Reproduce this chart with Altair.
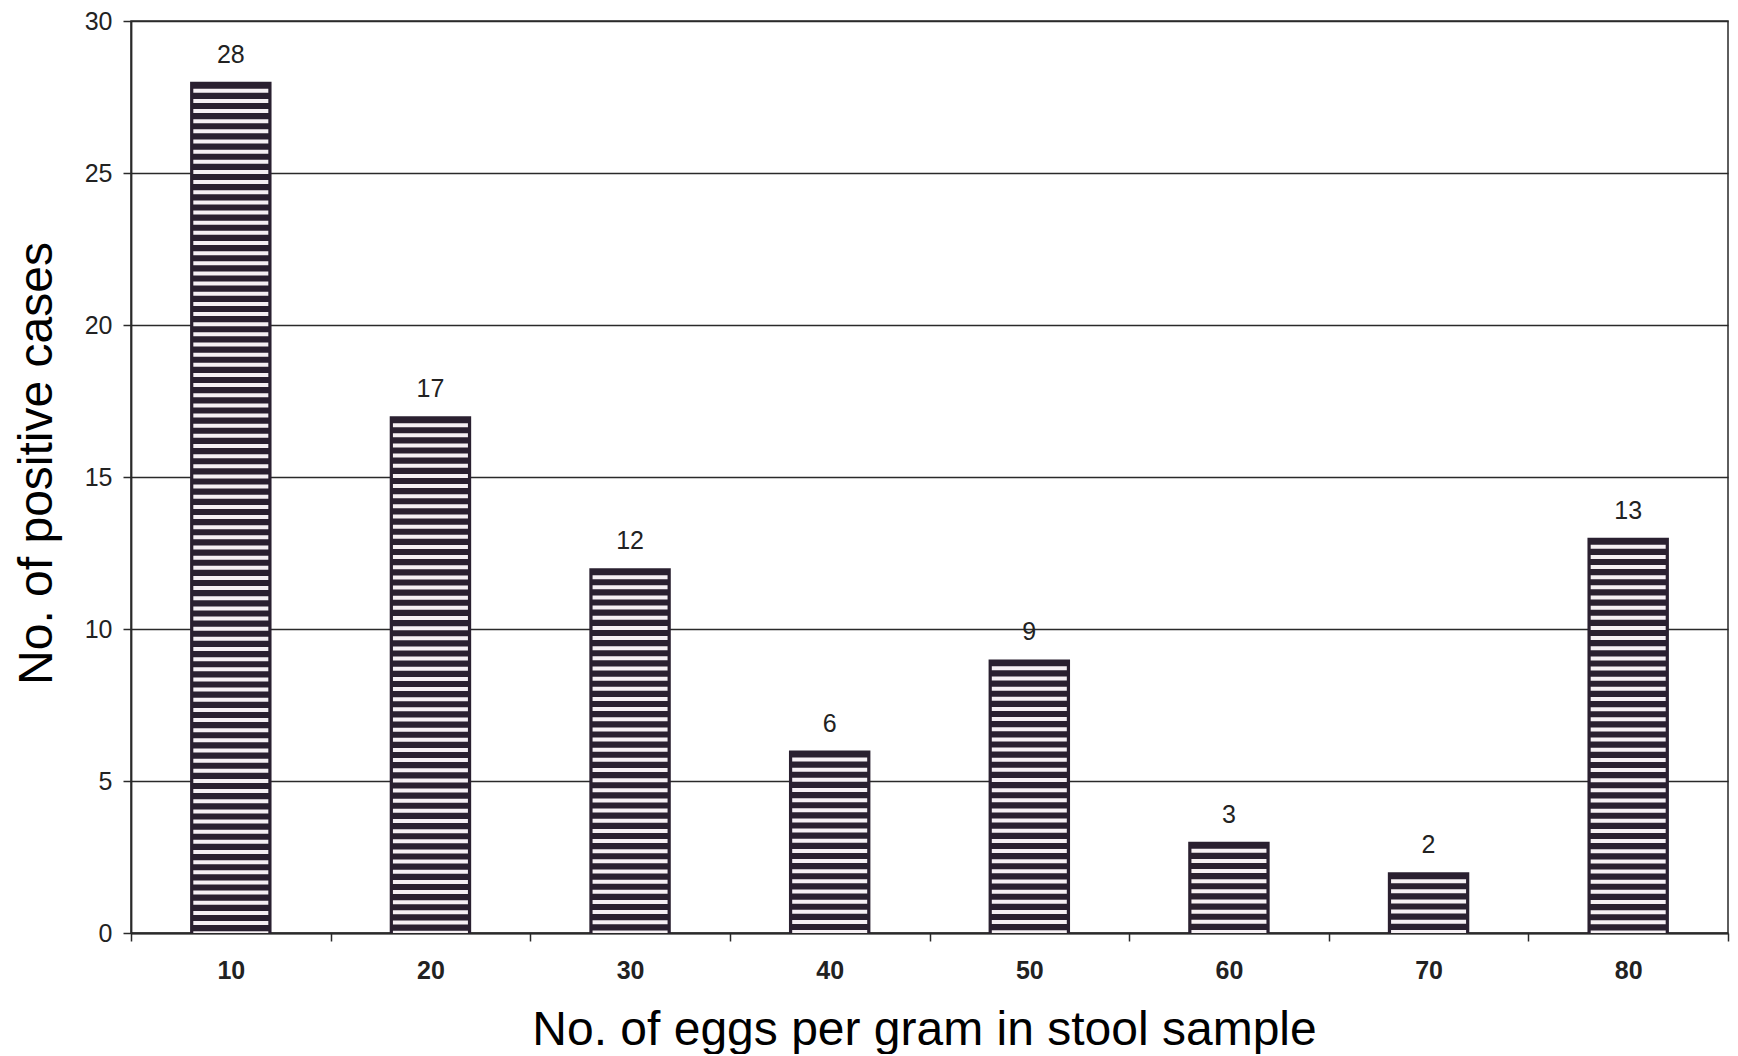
import altair as alt
import pandas as pd

eggs = ["10", "20", "30", "40", "50", "60", "70", "80"]
cases = [28, 17, 12, 6, 9, 3, 2, 13]
y_ticks = [0, 5, 10, 15, 20, 25, 30]

df = pd.DataFrame({"eggs": eggs, "cases": cases})

FONT = "Liberation Sans"
DARK = "#2a2030"
LINE = "#2a2a2a"

x_enc = alt.X(
    "eggs:N",
    sort=eggs,
    scale=alt.Scale(paddingInner=0, paddingOuter=0),
    axis=alt.Axis(
        labelAngle=0,
        labelFont=FONT,
        labelFontSize=25,
        labelFontWeight="bold",
        labelColor="#222222",
        labelPadding=17,
        tickBand="extent",
        tickSize=8,
        tickColor=LINE,
        tickWidth=1.5,
        domainColor=LINE,
        domainWidth=1.8,
        title="No. of eggs per gram in stool sample",
        titleFont=FONT,
        titleFontSize=48,
        titleFontWeight="normal",
        titleColor="#000000",
        titleX=793,
        titleY=111,
        titleBaseline="alphabetic",
        titleAlign="center",
    ),
)

y_scale = alt.Scale(domain=[0, 30], nice=False)
y_axis = alt.Axis(
    values=y_ticks,
    grid=True,
    gridColor=LINE,
    gridWidth=1.4,
    labelFont=FONT,
    labelFontSize=25,
    labelColor="#222222",
    labelPadding=11,
    tickSize=8,
    tickColor=LINE,
    tickWidth=1.5,
    domainColor=LINE,
    domainWidth=1.8,
    title="No. of positive cases",
    titleFont=FONT,
    titleFontSize=48,
    titleFontWeight="normal",
    titleColor="#000000",
    titleAngle=270,
    titleX=-80,
    titleY=442,
    titleBaseline="alphabetic",
    titleAlign="center",
)

base = alt.Chart(df).encode(x=x_enc)

bars = base.mark_bar(color=DARK, width=alt.RelativeBandSize(0.408)).encode(
    y=alt.Y("cases:Q", scale=y_scale, axis=y_axis)
)

stripes = base.mark_rule(
    color="#f6f0f4",
    strokeWidth=75,
    strokeDash=[4.0, 6.15],
    strokeDashOffset=6.2,
    strokeCap="butt",
    yOffset=3,
).encode(
    y=alt.Y("cases:Q", scale=y_scale),
    y2=alt.datum(0),
)

labels = base.mark_text(
    dy=-19,
    baseline="alphabetic",
    align="center",
    font=FONT,
    fontSize=25,
    color="#222222",
).encode(
    y=alt.Y("cases:Q", scale=y_scale),
    text="cases:Q",
)

chart = (
    alt.layer(bars, stripes, labels)
    .properties(
        width=1597,
        height=912,
        autosize=alt.AutoSizeParams(type="none"),
        padding={"left": 123, "top": 13, "right": 2, "bottom": 121},
        background="white",
    )
    .configure_view(stroke=LINE, strokeWidth=1.5)
)

chart.save("out.html", embed_options={"renderer": "svg", "actions": False})
